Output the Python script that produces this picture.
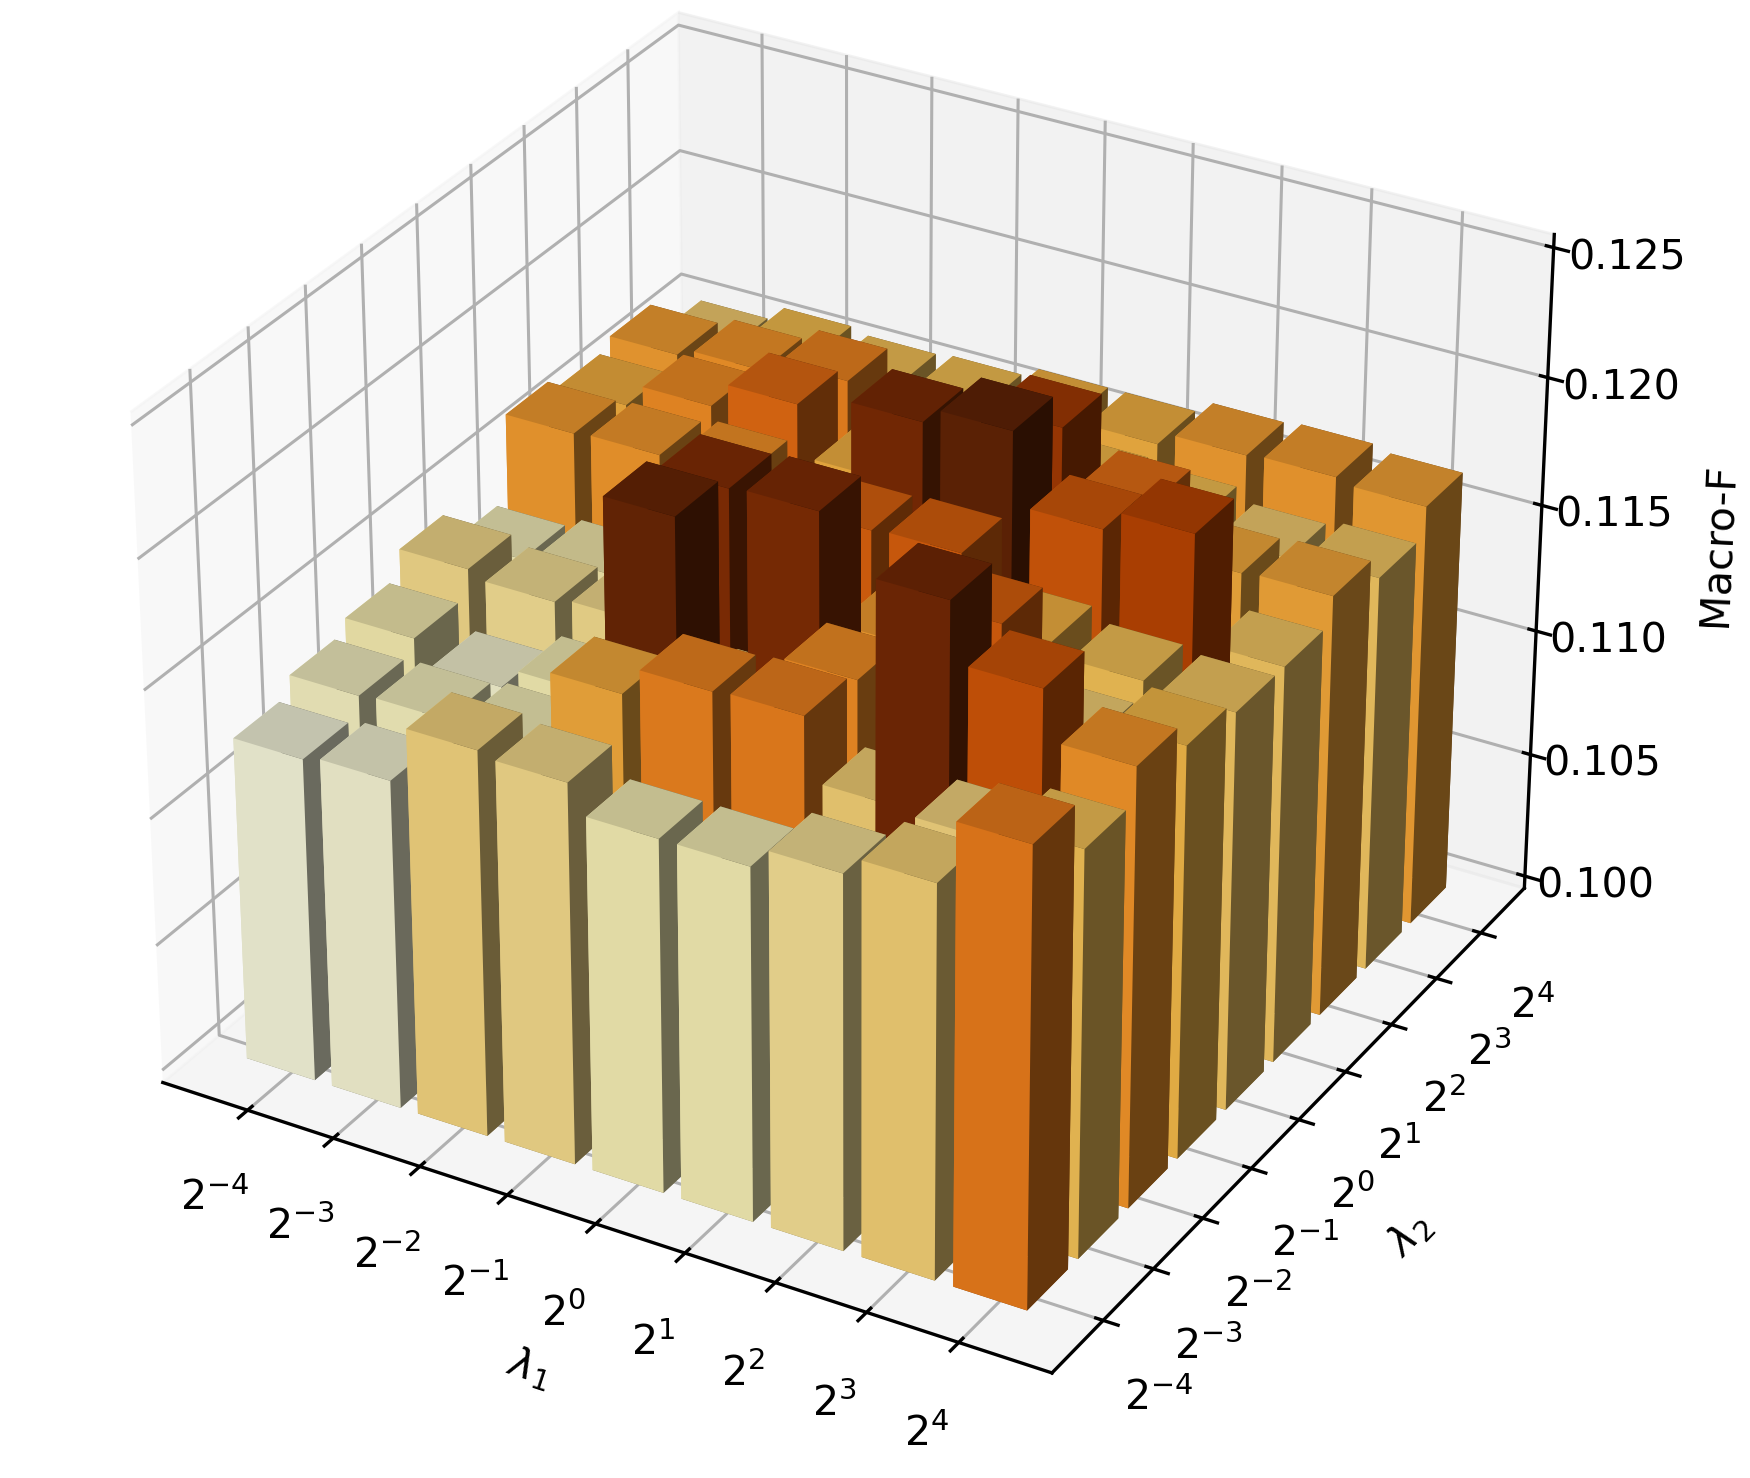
import numpy as np, seaborn as sns, matplotlib
matplotlib.use("Agg")
import matplotlib.pyplot as plt
row_0=[.1127,.1134,.1139,.1149,.1136,.1169,.1164,.1168,.1154]
row_1=[.1129,.1135,.1130,.1146,.1140,.1170,.1173,.1171,.1160]
row_2=[.1151,.1137,.1138,.1148,.1153,.1172,.1183,.1176,.1158]
row_3=[.1149,.1165,.1215,.1209,.1153,.1158,.1163,.1163,.1159]
row_4=[.1138,.1176,.1153,.1210,.1186,.1211,.1163,.1163,.1163]
row_5=[.1138,.1177,.1173,.1169,.1187,.1217,.1202,.1161,.1163]
row_6=[.1146,.1153,.1213,.1187,.1163,.1189,.1182,.1159,.1168]
row_7=[.1153,.1151,.1190,.1153,.1158,.1197,.1165,.1154,.1169]
row_8=[.1178,.1158,.1171,.1161,.1156,.1156,.1166,.1156,.1167]
tick_labels=["$2^{-4}$","$2^{-3}$","$2^{-2}$","$2^{-1}$","$2^{0}$","$2^{1}$","$2^{2}$","$2^{3}$","$2^{4}$"]
z_ticks=[.1,.105,.11,.115,.12,.125]
z_labels=["0.100","0.105","0.110","0.115","0.120","0.125"]
Z=np.array([row_0,row_1,row_2,row_3,row_4,row_5,row_6,row_7,row_8])
plt.rcParams['font.family']=['DejaVu Sans']
plt.rcParams['grid.linewidth']=1.1
plt.rcParams['axes.linewidth']=1.2
for a in 'xy':
    plt.rcParams[a+'tick.major.width']=1.2
cmap=sns.color_palette("YlOrBr",as_cmap=True)
fig=plt.figure(figsize=(8.75,7.39),dpi=200)
ax=fig.add_axes([-0.0585,0.0035,1.071,1.071],projection='3d')
norm=plt.Normalize(Z.min()-0.0001,Z.max())
for i in range(9):
    for j in range(9):
        ax.bar3d(i-0.4,j-0.4,0.1,0.8,0.8,Z[i,j]-0.1,color=cmap(norm(Z[i,j])),edgecolor='none',linewidth=0)
ax.set_xlim(-1,9);ax.set_ylim(-1,9);ax.set_zlim(0.0995,0.1255)
ax.set_xticks(range(9));ax.set_yticks(range(9));ax.set_xticklabels(tick_labels,fontsize=14.8);ax.set_yticklabels(tick_labels,fontsize=14.8)
ax.set_zticks(z_ticks);ax.set_zticklabels(z_labels,fontsize=14.8)
ax.tick_params(axis='x',pad=10);ax.tick_params(axis='y',pad=10);ax.tick_params(axis='z',pad=8)
ax.set_xlabel("$\\lambda_1$",fontsize=14.8,labelpad=16);ax.set_ylabel("$\\lambda_2$",fontsize=14.8,labelpad=16);ax.set_zlabel("Macro-F",fontsize=14.8,labelpad=19)
fig.savefig("out.png")
